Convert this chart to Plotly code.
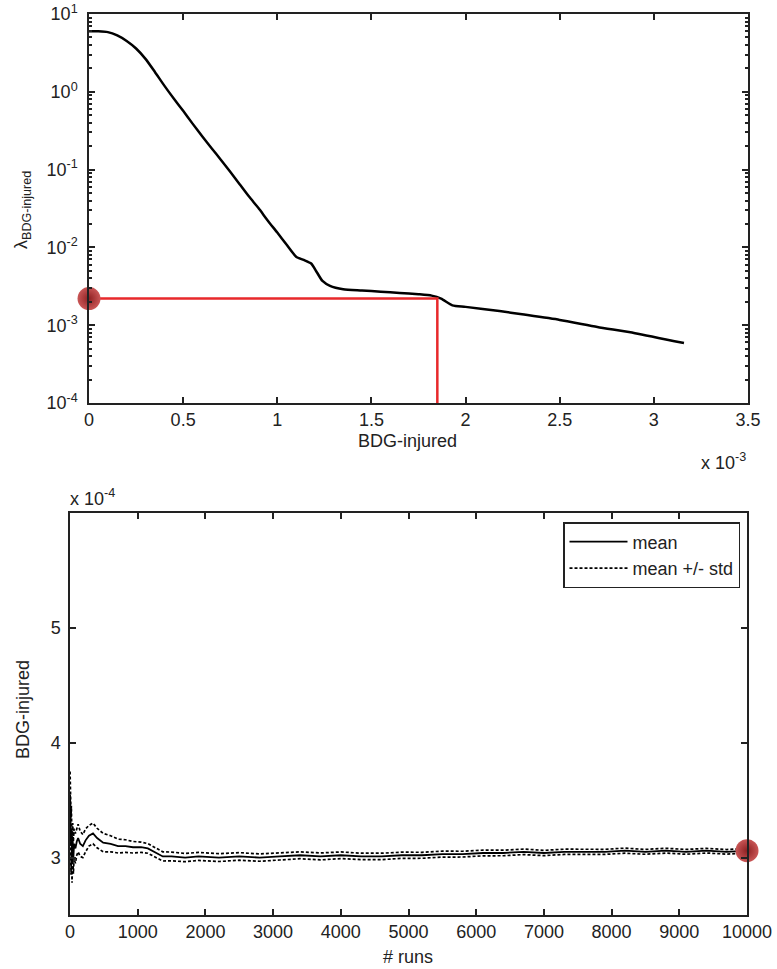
import plotly.graph_objects as go

# top panel: lambda vs BDG-injured (x in units of 1e-3)
lam_x = [0, 0.05, 0.1, 0.15, 0.2, 0.25, 0.3, 0.35, 0.4, 0.45, 0.5, 0.55, 0.6, 0.65,
         0.7, 0.75, 0.8, 0.85, 0.9, 0.95, 1.0, 1.05, 1.1, 1.14, 1.18, 1.21, 1.24,
         1.28, 1.35, 1.45, 1.55, 1.65, 1.75, 1.82, 1.87, 1.93, 2.0, 2.18, 2.3, 2.5,
         2.7, 2.9, 3.16]
lam_y = [6.0, 6.0, 5.85, 5.3, 4.5, 3.6, 2.65, 1.8, 1.2, 0.82, 0.57, 0.39, 0.27, 0.19,
         0.134, 0.094, 0.065, 0.045, 0.032, 0.022, 0.0155, 0.0108, 0.0076, 0.0069,
         0.0062, 0.0048, 0.0037, 0.0032, 0.0029, 0.0028, 0.0027, 0.0026, 0.0025,
         0.0024, 0.0022, 0.0018, 0.00172, 0.00152, 0.00138, 0.00117, 0.00095,
         0.00079, 0.00059]
sel_x = 1.85
sel_y = 0.0022

# bottom panel: convergence of BDG-injured (y in units of 1e-4)
runs = [1, 5, 10, 15, 20, 30, 40, 50, 60, 80, 100, 120, 150, 190, 230, 280, 340, 400,
        490, 600, 710, 820, 930, 1050, 1150, 1280, 1370, 1500, 1700, 1900, 2200, 2500,
        2800, 3100, 3400, 3700, 4000, 4300, 4600, 4900, 5200, 5500, 5800, 6100, 6400,
        6700, 7000, 7300, 7600, 7900, 8200, 8500, 8800, 9100, 9400, 9700, 10000]
mean = [3.55, 3.30, 3.45, 3.10, 3.25, 2.95, 3.15, 3.00, 3.12, 3.08, 3.14, 3.17, 3.12,
        3.10, 3.15, 3.19, 3.21, 3.17, 3.13, 3.12, 3.10, 3.10, 3.09, 3.09, 3.08, 3.04,
        3.01, 3.01, 3.00, 3.01, 3.00, 3.01, 3.00, 3.01, 3.02, 3.01, 3.02, 3.01, 3.01,
        3.02, 3.02, 3.03, 3.03, 3.04, 3.04, 3.05, 3.04, 3.05, 3.05, 3.05, 3.06, 3.05,
        3.06, 3.05, 3.06, 3.05, 3.06]
std = [0.20, 0.30, 0.25, 0.25, 0.20, 0.17, 0.15, 0.14, 0.13, 0.13, 0.12, 0.12, 0.11,
       0.10, 0.10, 0.09, 0.09, 0.085, 0.08, 0.07, 0.06, 0.055, 0.05, 0.045, 0.042, 0.04,
       0.04, 0.038, 0.036, 0.035, 0.034, 0.033, 0.032, 0.031, 0.030, 0.030, 0.029,
       0.028, 0.028, 0.027, 0.026, 0.026, 0.025, 0.025, 0.024, 0.024, 0.023, 0.023,
       0.022, 0.022, 0.022, 0.021, 0.021, 0.021, 0.020, 0.020, 0.020]
final_run = 10000
final_mean = 3.06

upper = [m + s for m, s in zip(mean, std)]
lower = [m - s for m, s in zip(mean, std)]

W, H = 777, 969
font = "Liberation Sans, Arial, sans-serif"
ball = dict(size=23, color="#c95656",
            gradient=dict(type="radial", color="#8e2022"),
            line=dict(width=0))

fig = go.Figure()

fig.add_trace(go.Scatter(x=lam_x, y=lam_y, mode="lines",
                         line=dict(color="black", width=2.5, shape="spline", smoothing=0.6),
                         showlegend=False, xaxis="x", yaxis="y"))
fig.add_trace(go.Scatter(x=[0, sel_x, sel_x], y=[sel_y, sel_y, 1e-4], mode="lines",
                         line=dict(color="#e8292b", width=2.5),
                         showlegend=False, xaxis="x", yaxis="y"))
fig.add_trace(go.Scatter(x=[0], y=[sel_y], mode="markers", marker=ball,
                         cliponaxis=False, showlegend=False, xaxis="x", yaxis="y"))

fig.add_trace(go.Scatter(x=runs, y=mean, mode="lines", name="mean",
                         line=dict(color="black", width=1.8),
                         xaxis="x2", yaxis="y2"))
fig.add_trace(go.Scatter(x=runs, y=upper, mode="lines", name="mean +/- std",
                         line=dict(color="black", width=1.7, dash="3px,2px"),
                         xaxis="x2", yaxis="y2"))
fig.add_trace(go.Scatter(x=runs, y=lower, mode="lines", showlegend=False,
                         line=dict(color="black", width=1.7, dash="3px,2px"),
                         xaxis="x2", yaxis="y2"))
fig.add_trace(go.Scatter(x=[final_run], y=[final_mean], mode="markers", marker=ball,
                         cliponaxis=False, showlegend=False, xaxis="x2", yaxis="y2"))

axis_common = dict(showline=True, linecolor="#222", linewidth=1.5, mirror="ticks",
                   ticks="inside", tickcolor="#222", tickwidth=1.5, ticklen=6,
                   showgrid=False, zeroline=False, automargin=False,
                   tickfont=dict(family=font, size=18, color="#222"))

minor_vals = [m * 10 ** e for e in range(-4, 1) for m in range(2, 10)]
run_ticks = list(range(0, 10001, 1000))

fig.update_layout(
    width=W, height=H,
    margin=dict(l=0, r=0, t=0, b=0, autoexpand=False),
    paper_bgcolor="white", plot_bgcolor="white",
    font=dict(family=font, size=18, color="#222"),
    xaxis=dict(domain=[89 / W, 748 / W], anchor="y", range=[0, 3.5],
               tickvals=[0, 0.5, 1, 1.5, 2, 2.5, 3, 3.5],
               ticktext=["0", "0.5", "1", "1.5", "2", "2.5", "3", "3.5"],
               **axis_common),
    yaxis=dict(domain=[1 - 403 / H, 1 - 14 / H], anchor="x", type="log", range=[-4, 1],
               tickvals=[1e-4, 1e-3, 1e-2, 1e-1, 1, 10],
               ticktext=["10<sup>-4</sup>", "10<sup>-3</sup>", "10<sup>-2</sup>",
                         "10<sup>-1</sup>", "10<sup>0</sup>", "10<sup>1</sup>"],
               ticklabelstandoff=6,
               minor=dict(ticks="inside", ticklen=3, tickcolor="#222",
                          tickvals=minor_vals, showgrid=False),
               **axis_common),
    xaxis2=dict(domain=[70 / W, 747 / W], anchor="y2", range=[0, 10000],
                tickvals=run_ticks, ticktext=[str(t) for t in run_ticks],
                **axis_common),
    yaxis2=dict(domain=[1 - 915 / H, 1 - 513 / H], anchor="x2", range=[2.5, 6.0],
                tickvals=[3, 4, 5], ticklabelstandoff=4,
                **axis_common),
    legend=dict(x=740 / W, xanchor="right", y=1 - 522 / H, yanchor="top",
                bgcolor="white", bordercolor="#222", borderwidth=1.5,
                font=dict(family=font, size=18, color="#222"),
                tracegroupgap=0, itemwidth=58),
)

# axis titles and exponent labels, centred on pixel positions
labels = [
    ("BDG-injured", 408, 441, 0),
    ("λ<sub>BDG-injured</sub>", 22, 210, -90),
    ("x 10<sup>-3</sup>", 723, 462, 0),
    ("x 10<sup>-4</sup>", 92, 497, 0),
    ("BDG-injured", 23, 710, -90),
    ("# runs", 408, 957, 0),
]
for text, px, py, ang in labels:
    fig.add_annotation(text=text, x=px / W, y=1 - py / H, xref="paper", yref="paper",
                       xanchor="center", yanchor="middle",
                       textangle=ang, showarrow=False,
                       font=dict(family=font, size=18, color="#222"))

# drop the page's default body margin so the figure sits at the window corner
fig.write_html("out.html", config={"displayModeBar": False},
               post_script="document.body.style.margin='0';")
